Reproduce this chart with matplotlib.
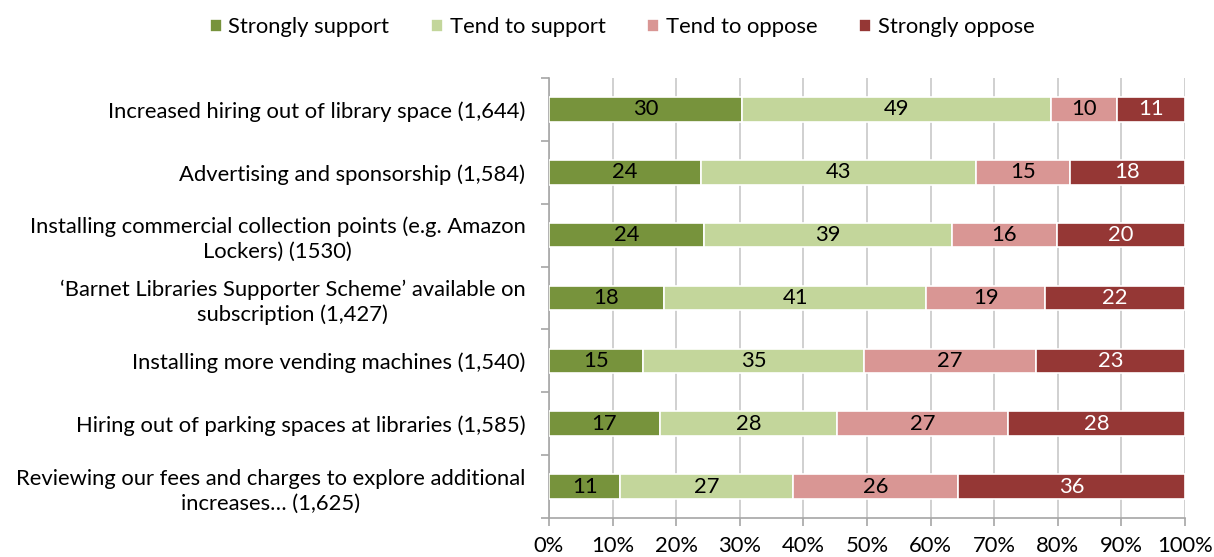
import matplotlib
matplotlib.use("Agg")
import matplotlib.pyplot as plt
import numpy as np

plt.rcParams['font.family'] = ['Lato', 'DejaVu Sans']

categories = [
    "Increased hiring out of library space (1,644)",
    "Advertising and sponsorship (1,584)",
    "Installing commercial collection points (e.g. Amazon\nLockers) (1530)",
    "\u2018Barnet Libraries Supporter Scheme\u2019 available on\nsubscription (1,427)",
    "Installing more vending machines (1,540)",
    "Hiring out of parking spaces at libraries (1,585)",
    "Reviewing our fees and charges to explore additional\nincreases\u2026 (1,625)",
]
series_names = ["Strongly support", "Tend to support", "Tend to oppose", "Strongly oppose"]
strongly_support = [30.3, 23.9, 24.4, 18.1, 14.8, 17.4, 11.2]
tend_support = [48.6, 43.2, 39.0, 41.2, 34.7, 27.9, 27.2]
tend_oppose = [10.4, 14.8, 16.4, 18.7, 27.1, 26.9, 25.9]
strongly_oppose = [10.7, 18.1, 20.2, 22.0, 23.4, 27.8, 35.7]
labels = [
    [30, 24, 24, 18, 15, 17, 11],
    [49, 43, 39, 41, 35, 28, 27],
    [10, 15, 16, 19, 27, 27, 26],
    [11, 18, 20, 22, 23, 28, 36],
]
colors = ["#77933C", "#C3D69B", "#D99694", "#953735"]
text_colors = ["black", "black", "black", "white"]
x_ticks = list(range(0, 101, 10))
x_tick_labels = [f"{t}%" for t in x_ticks]

FS = 15.8

fig = plt.figure(figsize=(12.14, 5.57), dpi=100)
ax = fig.add_axes([549/1214, 1-518/557, 636/1214, (518-78)/557])

y = np.arange(len(categories))
left = np.zeros(len(categories))
data = [strongly_support, tend_support, tend_oppose, strongly_oppose]
for i, vals in enumerate(data):
    vals = np.array(vals)
    ax.barh(y, vals, left=left, height=0.39, color=colors[i], edgecolor="white",
            linewidth=1.2, label=series_names[i], zorder=3)
    for j in range(len(categories)):
        ax.text(left[j] + vals[j]/2, y[j], str(labels[i][j]), ha="center", va="center",
                fontsize=FS, color=text_colors[i], zorder=4)
    left += vals

ax.set_xlim(0, 100)
ax.set_ylim(len(categories)-0.5, -0.5)
ax.set_xticks(x_ticks)
ax.set_xticklabels(x_tick_labels, fontsize=FS)
ax.set_yticks(y)
ax.set_yticklabels(categories, fontsize=FS, ha="right", multialignment="center",
                   linespacing=1.3)
ax.tick_params(axis="y", length=0, pad=17)
ax.set_yticks(np.arange(-0.5, len(categories), 1), minor=True)
ax.tick_params(axis="y", which="minor", length=6, color="#A6A6A6", width=1.2)
ax.tick_params(axis="x", length=6, color="#A6A6A6", width=1.2, pad=7)
ax.grid(axis="x", color="#C8C8C8", linewidth=1.2, zorder=0)
for s in ["top", "right"]:
    ax.spines[s].set_visible(False)
for s in ["left", "bottom"]:
    ax.spines[s].set_color("#A6A6A6")
    ax.spines[s].set_linewidth(1.2)

fig.legend(loc="upper center", bbox_to_anchor=(622/1214, 1.005), ncol=4, frameon=False,
           fontsize=FS, handlelength=0.55, handleheight=0.55, handletextpad=0.3,
           columnspacing=1.9)

fig.savefig("out.png", dpi=100)
